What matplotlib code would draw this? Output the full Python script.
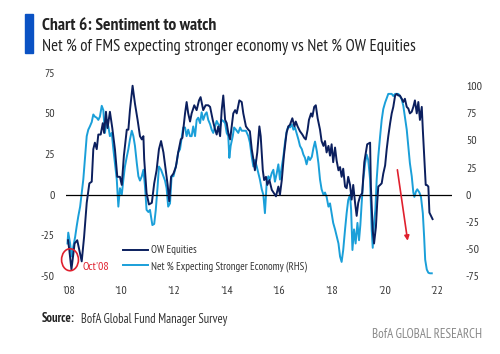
#!/usr/bin/env python3

import numpy as np
from matplotlib import pyplot as plt
from matplotlib.patches import Ellipse, Rectangle

plt.rcParams['font.family'] = ['PT Sans Narrow', 'Liberation Sans', 'DejaVu Sans']
plt.rcParams['axes.unicode_minus'] = False

NAVY = '#0b1f5e'
LIGHT = '#1a9fd9'
RED = '#e0202e'

# OW Equities, net % (left axis)
eq_t = [2008.00, 2008.05, 2008.13, 2008.25, 2008.35, 2008.43, 2008.52, 2008.61, 2008.71, 2008.81,
        2008.90, 2008.96, 2009.02, 2009.09, 2009.15, 2009.24, 2009.32, 2009.37, 2009.44, 2009.50,
        2009.59, 2009.68, 2009.78, 2009.87, 2009.97, 2010.04, 2010.12, 2010.23, 2010.29, 2010.35,
        2010.45, 2010.54, 2010.64, 2010.73, 2010.80, 2010.86, 2010.89, 2010.98, 2011.07, 2011.18,
        2011.27, 2011.36, 2011.45, 2011.53, 2011.62, 2011.71, 2011.78, 2011.84, 2011.91, 2012.00,
        2012.09, 2012.18, 2012.28, 2012.34, 2012.44, 2012.50, 2012.56, 2012.63, 2012.69, 2012.79,
        2012.88, 2012.97, 2013.03, 2013.13, 2013.22, 2013.32, 2013.39, 2013.49, 2013.58, 2013.64,
        2013.70, 2013.77, 2013.83, 2013.89, 2013.96, 2014.02, 2014.08, 2014.15, 2014.21, 2014.27,
        2014.34, 2014.40, 2014.50, 2014.59, 2014.65, 2014.75, 2014.84, 2014.90, 2014.97, 2015.03,
        2015.09, 2015.18, 2015.26, 2015.31, 2015.39, 2015.44, 2015.51, 2015.56, 2015.64, 2015.73,
        2015.81, 2015.89, 2015.98, 2016.04, 2016.11, 2016.19, 2016.29, 2016.36, 2016.42, 2016.51,
        2016.59, 2016.64, 2016.71, 2016.80, 2016.89, 2016.96, 2017.02, 2017.09, 2017.14, 2017.22,
        2017.27, 2017.34, 2017.40, 2017.47, 2017.56, 2017.62, 2017.69, 2017.75, 2017.81, 2017.88,
        2017.94, 2018.00, 2018.06, 2018.13, 2018.19, 2018.26, 2018.32, 2018.38, 2018.44, 2018.51,
        2018.57, 2018.63, 2018.70, 2018.76, 2018.82, 2018.89, 2018.95, 2019.01, 2019.08, 2019.16,
        2019.24, 2019.35, 2019.46, 2019.49, 2019.56, 2019.61, 2019.68, 2019.73, 2019.77, 2019.84,
        2019.90, 2019.96, 2020.03, 2020.09, 2020.15, 2020.22, 2020.28, 2020.34, 2020.41, 2020.47,
        2020.53, 2020.59, 2020.66, 2020.72, 2020.78, 2020.85, 2020.91, 2020.97, 2021.04, 2021.10,
        2021.16, 2021.23, 2021.29, 2021.35, 2021.42, 2021.46, 2021.51, 2021.57, 2021.61, 2021.67,
        2021.71, 2021.77, 2021.83]
eq_v = [-28, -34, -46, -30, -28, -34, -41, -26, -5, 7,
        8, 28, 32, 28, 37, 37, 44, 38, 51, 41,
        51, 41, 28, 11, 11, 6, 24, 40, 40, 52,
        67, 56, 46, 36, 34, 36, 22, 1, -6, -5,
        7, 15, 28, 33, 26, 15, 6, -4, 11, 13,
        17, 26, 34, 35, 50, 57, 50, 45, 50, 55,
        52, 58, 60, 52, 55, 55, 54, 46, 40, 37,
        42, 36, 52, 61, 46, 44, 38, 34, 42, 50,
        52, 50, 58, 57, 50, 42, 40, 39, 28, 22,
        15, 26, 42, 36, 15, 9, 11, 6, 9, 3,
        1, -1, 5, 0, 9, 24, 38, 42, 43, 47,
        42, 45, 42, 39, 37, 35, 34, 40, 46, 50,
        48, 54, 55, 47, 40, 33, 30, 33, 26, 30,
        24, 31, 20, 29, 21, 15, 17, 11, 16, 5,
        4, 11, 6, -3, 6, -5, -13, -5, -1, 1,
        20, 31, 32, 5, -22, -30, -20, -5, 5, 6,
        7, 13, 18, 28, 36, 44, 50, 54, 61, 62,
        61, 61, 59, 57, 59, 54, 53, 50, 51, 54,
        58, 50, 57, 46, 54, 40, 24, 6, 6, 5,
        -11, -13, -15]

# Net % expecting stronger economy (right axis)
econ_t = [2007.98, 2008.01, 2008.08, 2008.14, 2008.20, 2008.27, 2008.33, 2008.39, 2008.46, 2008.52,
          2008.58, 2008.64, 2008.71, 2008.77, 2008.83, 2008.90, 2008.96, 2009.02, 2009.09, 2009.15,
          2009.21, 2009.28, 2009.34, 2009.40, 2009.47, 2009.53, 2009.59, 2009.66, 2009.72, 2009.78,
          2009.85, 2009.91, 2009.97, 2010.04, 2010.10, 2010.16, 2010.23, 2010.29, 2010.35, 2010.42,
          2010.48, 2010.54, 2010.61, 2010.67, 2010.73, 2010.80, 2010.86, 2010.92, 2010.98, 2011.05,
          2011.11, 2011.20, 2011.27, 2011.33, 2011.40, 2011.45, 2011.53, 2011.62, 2011.68, 2011.74,
          2011.80, 2011.87, 2011.93, 2012.00, 2012.06, 2012.12, 2012.18, 2012.25, 2012.31, 2012.37,
          2012.44, 2012.50, 2012.56, 2012.63, 2012.69, 2012.75, 2012.82, 2012.88, 2012.94, 2013.01,
          2013.07, 2013.13, 2013.20, 2013.26, 2013.32, 2013.39, 2013.45, 2013.51, 2013.58, 2013.64,
          2013.70, 2013.77, 2013.83, 2013.89, 2013.96, 2014.02, 2014.08, 2014.12, 2014.17, 2014.25,
          2014.30, 2014.37, 2014.46, 2014.53, 2014.59, 2014.65, 2014.75, 2014.84, 2014.90, 2014.97,
          2015.03, 2015.09, 2015.16, 2015.22, 2015.28, 2015.35, 2015.41, 2015.47, 2015.54, 2015.60,
          2015.66, 2015.73, 2015.79, 2015.85, 2015.92, 2015.98, 2016.04, 2016.11, 2016.17, 2016.23,
          2016.30, 2016.36, 2016.42, 2016.49, 2016.55, 2016.61, 2016.68, 2016.74, 2016.80, 2016.87,
          2016.93, 2016.99, 2017.05, 2017.12, 2017.18, 2017.25, 2017.31, 2017.37, 2017.44, 2017.50,
          2017.56, 2017.62, 2017.69, 2017.75, 2017.81, 2017.88, 2017.94, 2018.00, 2018.06, 2018.13,
          2018.19, 2018.26, 2018.32, 2018.38, 2018.44, 2018.51, 2018.57, 2018.63, 2018.70, 2018.74,
          2018.79, 2018.85, 2018.91, 2018.98, 2019.04, 2019.09, 2019.14, 2019.20, 2019.27, 2019.33,
          2019.39, 2019.46, 2019.52, 2019.56, 2019.61, 2019.66, 2019.71, 2019.77, 2019.84, 2019.90,
          2019.96, 2020.03, 2020.09, 2020.15, 2020.22, 2020.28, 2020.34, 2020.41, 2020.47, 2020.53,
          2020.59, 2020.66, 2020.72, 2020.78, 2020.85, 2020.91, 2020.97, 2021.04, 2021.10, 2021.14,
          2021.20, 2021.25, 2021.33, 2021.39, 2021.46, 2021.51, 2021.55, 2021.61, 2021.67, 2021.73,
          2021.80]
econ_v = [-45, -35, -45, -57, -48, -39, -29, -20, -11, 1.5,
          14, 32, 54, 60, 63, 67, 74, 72, 71, 69,
          72, 82, 78, 57, 69, 63, 54, 57, 42, 29,
          14, -11, 6, 0, 14, 26, 35, 42, 51, 59,
          54, 45, 29, 17, 13, 17, 23, 8, -14, -16,
          -14, -28, -27, -14, 8, 26, 23, 17, 13, 6,
          -11, -8, 17, 17, 23, 29, 39, 42, 52, 62,
          62, 54, 60, 54, 54, 63, 54, 69, 71, 66,
          76, 69, 74, 76, 69, 65, 60, 57, 63, 68,
          65, 63, 69, 68, 66, 57, 54, 34, 45, 54,
          62, 60, 57, 62, 59, 59, 59, 54, 48, 35,
          26, 32, 26, 20, 14, 5, 0, -17, 12, 17,
          14, 20, 23, 12, 20, 28, 14, 26, 35, 48,
          59, 63, 62, 65, 60, 62, 56, 51, 45, 42,
          37, 34, 28, 35, 32, 35, 43, 49, 40, 29,
          14, 5, 0, 2, -2, -11, -8, -17, -26, -32,
          -38, -45, -57, -62, -51, -32, -17, -5, 0, -14,
          -51, -32, -45, -26, -42, -28, -8, 14, 29, 37,
          32, 14, -32, -49, -26, -14, 14, 35, 54, 69,
          79, 85, 89, 93, 93, 93, 91, 93, 93, 93,
          91, 88, 82, 72, 60, 45, 29, 17, 2, -2,
          3, 5, 2, -2, -17, -39, -60, -69, -72, -72.5,
          -72.5]

year_ticks = [2008, 2010, 2012, 2014, 2016, 2018, 2020, 2022]
year_labels = ["'08", "'10", "'12", "'14", "'16", "'18", "'20", "'22"]
left_ticks = [-50, -25, 0, 25, 50, 75]
right_ticks = [-75, -50, -25, 0, 25, 50, 75, 100]

fig = plt.figure(figsize=(5.0, 3.54), dpi=100)
ax = fig.add_axes([0.132, 0.2203, 0.772, 0.588])
ax2 = ax.twinx()

ax.axhline(0, color='black', lw=0.9, zorder=1)
l2, = ax2.plot(econ_t, econ_v, color=LIGHT, lw=1.4, label='Net % Expecting Stronger Economy (RHS)')
l1, = ax.plot(eq_t, eq_v, color=NAVY, lw=1.4, label='OW Equities', zorder=3)

ax.set_zorder(ax2.get_zorder() + 1)
ax.patch.set_visible(False)

ax.set_xlim(2007.924, 2022.567)
ax.set_ylim(-50, 78)
ax2.set_ylim(-75, 117)
ax.set_xticks(year_ticks)
ax.set_xticklabels(year_labels)
ax.set_yticks(left_ticks)
ax2.set_yticks(right_ticks)

for a in (ax, ax2):
  for s in a.spines.values():
    s.set_visible(False)
ax.tick_params(axis='both', length=0, labelsize=8.5, colors='#333333', pad=7)
ax.tick_params(axis='y', pad=8)
ax2.tick_params(axis='y', length=0, labelsize=8.5, colors='#333333', pad=10)

leg = ax.legend([l1, l2], [l1.get_label(), l2.get_label()], loc='upper left',
                bbox_to_anchor=(0.1477, 0.147), frameon=False, fontsize=7.8,
                handlelength=2.3, handletextpad=0.25, labelspacing=0.5,
                borderpad=0, borderaxespad=0)
for t in leg.get_texts():
  t.set_color('#333333')

# Oct'08 callout
ax.add_patch(Ellipse((2008.076, -40), 0.64, 13.5, fill=False, edgecolor=RED, lw=1.2, clip_on=False, zorder=5))
ax.text(2008.55, -44.5, "Oct'08", color=RED, fontsize=8.5, va='center', ha='left')

# red arrow
ax.annotate('', xy=(2020.9, -30), xytext=(2020.48, 17),
            arrowprops=dict(arrowstyle='-|>', color=RED, lw=1.2, mutation_scale=7), zorder=5)

# titles and footer
fig.patches.append(Rectangle((25 / 500, 1 - 53 / 354), 8 / 500, 39 / 354,
                             transform=fig.transFigure, color='#0a52c4', zorder=5))
fig.text(42 / 500, 1 - 26.5 / 354, 'Chart 6: Sentiment to watch', fontsize=12.6,
         fontweight='bold', color='#222222', va='center', ha='left')
fig.text(42 / 500, 1 - 46.5 / 354, 'Net % of FMS expecting stronger economy vs Net % OW Equities',
         fontsize=12.1, color='#222222', va='center', ha='left')
fig.text(42 / 500, 1 - 319 / 354, 'Source:', fontsize=9, fontweight='bold', color='#222222',
         va='center', ha='left')
fig.text(81 / 500, 1 - 319 / 354, 'BofA Global Fund Manager Survey', fontsize=9, color='#333333',
         va='center', ha='left')
fig.text(482 / 500, 1 - 334 / 354, 'BofA GLOBAL RESEARCH', fontsize=9.4, color='#888888',
         va='center', ha='right')

fig.savefig('out.png', dpi=100)
